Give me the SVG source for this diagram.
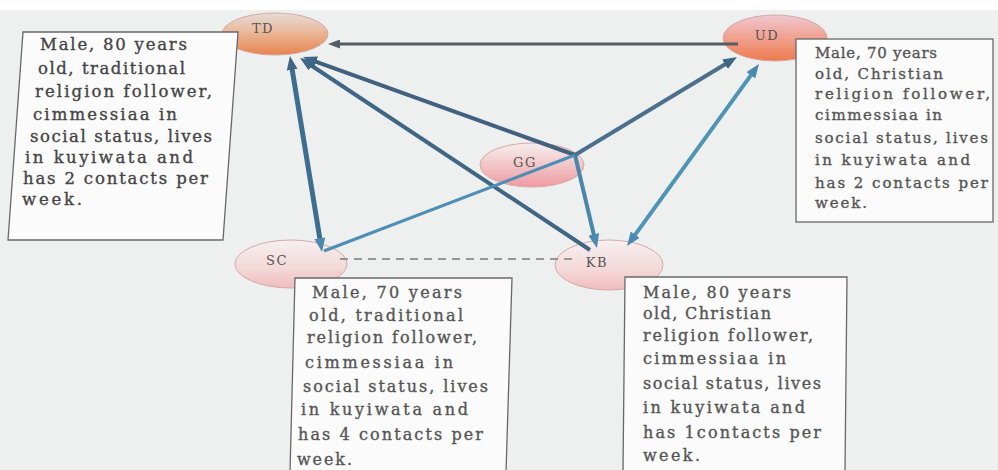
<svg xmlns="http://www.w3.org/2000/svg" width="998" height="470" viewBox="0 0 998 470">
<style>
.box{fill:#fbfbfb;stroke:#686868;stroke-width:1.3}
.t{font-family:"DejaVu Serif","Liberation Serif",serif;font-size:16px;fill:#555;stroke:#555;stroke-width:0.35}
.td{fill:#444;stroke:#444;font-size:16.5px}
.ud{font-size:15px}
.lbl{font-family:"DejaVu Serif","Liberation Serif",serif;font-size:13px;fill:#555;text-anchor:middle;letter-spacing:1.5px}
.c{fill:none;stroke-linecap:butt}
.node{stroke:#d6a8a8;stroke-width:1}
</style>
<defs>
<linearGradient id="gTD" x1="0" y1="0" x2="0" y2="1">
<stop offset="0" stop-color="#e6dcd8"/><stop offset="0.45" stop-color="#ebb89a"/><stop offset="1" stop-color="#e7834c"/>
</linearGradient>
<linearGradient id="gUD" x1="0" y1="0" x2="0" y2="1">
<stop offset="0" stop-color="#f0c8d2"/><stop offset="0.5" stop-color="#f0a08e"/><stop offset="1" stop-color="#ee7a4e"/>
</linearGradient>
<linearGradient id="gGG" x1="0" y1="0" x2="0" y2="1">
<stop offset="0" stop-color="#f6eeee"/><stop offset="0.5" stop-color="#f2c6c8"/><stop offset="1" stop-color="#ee9aa0"/>
</linearGradient>
<linearGradient id="gPk" x1="0" y1="0" x2="0" y2="1">
<stop offset="0" stop-color="#f6f0f0"/><stop offset="0.6" stop-color="#f4d8d8"/><stop offset="1" stop-color="#f0bcbc"/>
</linearGradient>
<marker id="ahD" markerUnits="userSpaceOnUse" markerWidth="14" markerHeight="11" refX="5" refY="5.5" orient="auto-start-reverse">
<path d="M0,0 L14,5.5 L0,11 z" fill="#3f6685"/>
</marker>
<marker id="ahB" markerUnits="userSpaceOnUse" markerWidth="14" markerHeight="11" refX="5" refY="5.5" orient="auto-start-reverse">
<path d="M0,0 L14,5.5 L0,11 z" fill="#4a8ab0"/>
</marker>
<marker id="ahG" markerUnits="userSpaceOnUse" markerWidth="12" markerHeight="9" refX="4" refY="4.5" orient="auto-start-reverse">
<path d="M0,0 L12,4.5 L0,9 z" fill="#545c64"/>
</marker>
</defs>
<rect x="0" y="0" width="998" height="470" fill="#eef0f0"/>
<rect x="0" y="0" width="998" height="10" fill="#ffffff"/>

<g id="node-TD"><ellipse class="node" cx="275" cy="34" rx="53" ry="21" fill="url(#gTD)"/><text class="lbl" x="263" y="33">TD</text></g>
<g id="node-UD"><ellipse class="node" cx="775" cy="38" rx="52" ry="23" fill="url(#gUD)"/><text class="lbl" x="767" y="40">UD</text></g>
<g id="node-GG"><ellipse class="node" cx="532" cy="165" rx="52" ry="22" fill="url(#gGG)"/><text class="lbl" x="525" y="167">GG</text></g>
<g id="node-SC"><ellipse class="node" cx="291" cy="264" rx="56" ry="24" fill="url(#gPk)"/><text class="lbl" x="277" y="265">SC</text></g>
<g id="node-KB"><ellipse class="node" cx="609" cy="265" rx="54" ry="25" fill="url(#gPk)"/><text class="lbl" x="597" y="267">KB</text></g>

<g id="connectors">
<path class="c" d="M738,44 L336,44" stroke="#545c64" stroke-width="3" marker-end="url(#ahG)"/>
<path class="c" d="M291.4,64.9 L320.6,243.1" stroke="#3d6e8f" stroke-width="5" marker-start="url(#ahD)" marker-end="url(#ahB)"/>
<path class="c" d="M590,250 L307.5,63" stroke="#3f6685" stroke-width="4" marker-end="url(#ahD)"/>
<path class="c" d="M575,155 L311.5,60.1" stroke="#41627e" stroke-width="4" marker-end="url(#ahD)"/>
<path class="c" d="M575,155 L594.9,239.2" stroke="#4a86aa" stroke-width="4" marker-end="url(#ahB)"/>
<path class="c" d="M324,251 L575,155" stroke="#4e8db5" stroke-width="3"/>
<path class="c" d="M575,155 L729.3,61.7" stroke="#4b6f8c" stroke-width="4" marker-end="url(#ahD)"/>
<path class="c" d="M632.3,238.7 L753.7,71.3" stroke="#4d94b5" stroke-width="4" marker-start="url(#ahB)" marker-end="url(#ahB)"/>
<path class="c" d="M340,259 L572,259" stroke="#7a7a7a" stroke-width="1.5" stroke-dasharray="8 6"/>
</g>

<g id="info-TD">
<polygon class="box" points="23,32 238,32 223,240 8,240"/>
<text class="t td" x="40" y="50" textLength="147" lengthAdjust="spacing">Male, 80 years</text>
<text class="t td" x="38" y="74" textLength="147" lengthAdjust="spacing">old, traditional</text>
<text class="t td" x="35" y="97" textLength="177" lengthAdjust="spacing">religion follower,</text>
<text class="t td" x="33" y="120" textLength="144" lengthAdjust="spacing">cimmessiaa in</text>
<text class="t td" x="30" y="142" textLength="182" lengthAdjust="spacing">social status, lives</text>
<text class="t td" x="25" y="163" textLength="168" lengthAdjust="spacing">in kuyiwata and</text>
<text class="t td" x="23" y="184" textLength="185" lengthAdjust="spacing">has 2 contacts per</text>
<text class="t td" x="22" y="205" textLength="60" lengthAdjust="spacing">week.</text>
</g>

<g id="info-UD">
<rect class="box" x="796" y="39" width="197" height="183"/>
<text class="t ud" x="815" y="58" textLength="122" lengthAdjust="spacing">Male, 70 years</text>
<text class="t ud" x="815" y="79" textLength="128" lengthAdjust="spacing">old, Christian</text>
<text class="t ud" x="815" y="99" textLength="175" lengthAdjust="spacing">religion follower,</text>
<text class="t ud" x="815" y="120" textLength="127" lengthAdjust="spacing">cimmessiaa in</text>
<text class="t ud" x="815" y="143" textLength="173" lengthAdjust="spacing">social status, lives</text>
<text class="t ud" x="815" y="165" textLength="155" lengthAdjust="spacing">in kuyiwata and</text>
<text class="t ud" x="815" y="188" textLength="173" lengthAdjust="spacing">has 2 contacts per</text>
<text class="t ud" x="815" y="208" textLength="52" lengthAdjust="spacing">week.</text>
</g>

<g id="info-SC">
<polygon class="box" points="295,278 512,278 506,472 290,472"/>
<text class="t" x="312" y="298" textLength="150" lengthAdjust="spacing">Male, 70 years</text>
<text class="t" x="309" y="321" textLength="154" lengthAdjust="spacing">old, traditional</text>
<text class="t" x="307" y="343" textLength="170" lengthAdjust="spacing">religion follower,</text>
<text class="t" x="305" y="368" textLength="148" lengthAdjust="spacing">cimmessiaa in</text>
<text class="t" x="303" y="392" textLength="185" lengthAdjust="spacing">social status, lives</text>
<text class="t" x="301" y="415" textLength="167" lengthAdjust="spacing">in kuyiwata and</text>
<text class="t" x="298" y="440" textLength="185" lengthAdjust="spacing">has 4 contacts per</text>
<text class="t" x="297" y="465" textLength="55" lengthAdjust="spacing">week.</text>
</g>

<g id="info-KB">
<polygon class="box" points="625,277 847,277 845,472 623,472"/>
<text class="t" x="643" y="298" textLength="148" lengthAdjust="spacing">Male, 80 years</text>
<text class="t" x="643" y="319" textLength="128" lengthAdjust="spacing">old, Christian</text>
<text class="t" x="643" y="341" textLength="170" lengthAdjust="spacing">religion follower,</text>
<text class="t" x="643" y="364" textLength="143" lengthAdjust="spacing">cimmessiaa in</text>
<text class="t" x="643" y="389" textLength="178" lengthAdjust="spacing">social status, lives</text>
<text class="t" x="643" y="413" textLength="162" lengthAdjust="spacing">in kuyiwata and</text>
<text class="t" x="643" y="438" textLength="178" lengthAdjust="spacing">has 1contacts per</text>
<text class="t" x="643" y="461" textLength="57" lengthAdjust="spacing">week.</text>
</g>
</svg>
